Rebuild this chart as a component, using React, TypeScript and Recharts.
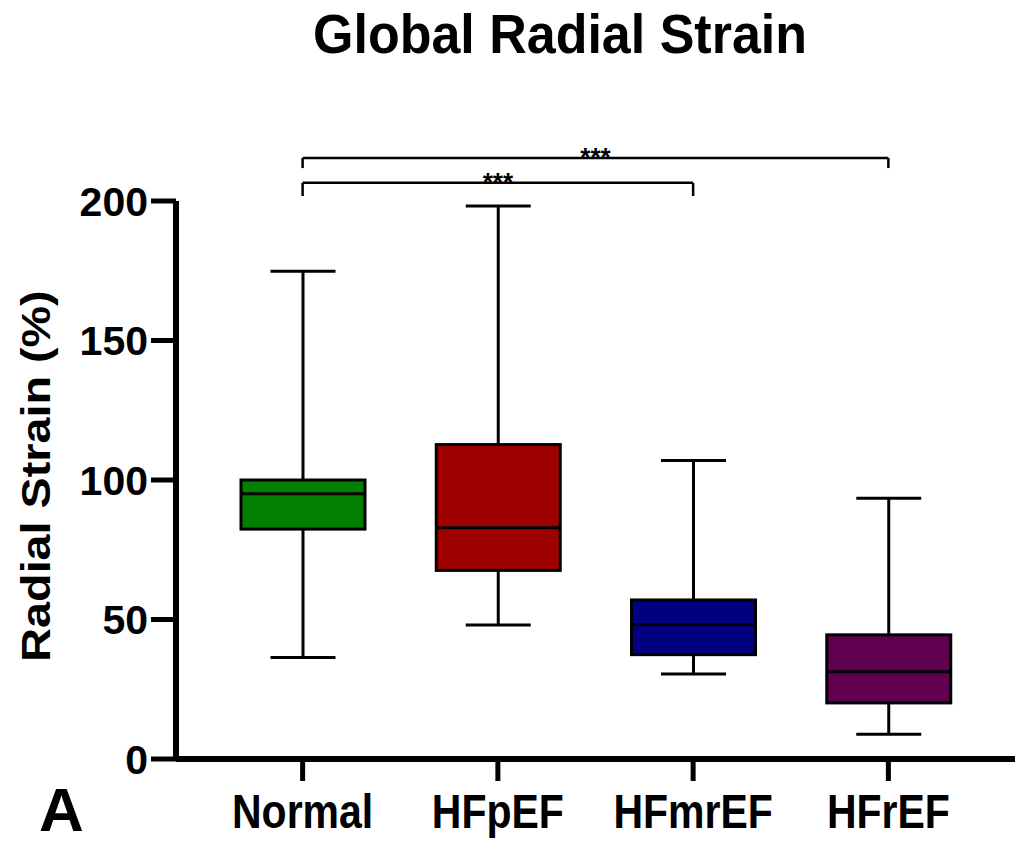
import React from "react";
import {
  ComposedChart,
  Bar,
  XAxis,
  YAxis,
  ReferenceLine,
} from "recharts";

// groups + five-number summaries
const categories = ["Normal", "HFpEF", "HFmrEF", "HFrEF"];
const minValues = [36.4, 48.0, 30.5, 8.9];
const q1Values = [82.4, 67.6, 37.4, 20.1];
const medianValues = [95.1, 82.9, 48.2, 31.3];
const q3Values = [100.0, 112.7, 57.0, 44.5];
const maxValues = [174.8, 198.2, 107.0, 93.5];
const boxColors = ["#007F00", "#9F0000", "#000080", "#61004F"];
const yTicks = [0, 50, 100, 150, 200];

// significance brackets (from, to, label, bar level, leg end level)
const bracketFrom = ["Normal", "Normal"];
const bracketTo = ["HFmrEF", "HFrEF"];
const bracketLabels = ["***", "***"];
const bracketTop = [206.5, 215.4];
const bracketLeg = [201.8, 211.8];

const FONT = '"Liberation Sans", Arial, Helvetica, sans-serif';

const chartData = categories.map((name, i) => ({
  name,
  min: minValues[i],
  q1: q1Values[i],
  median: medianValues[i],
  q3: q3Values[i],
  max: maxValues[i],
  color: boxColors[i],
}));

// draws whiskers + box inside the [min, max] range bar the library laid out
const BoxShape = (props: any) => {
  const { x, y, width, height, payload } = props;
  if (!payload) return null;
  const top = Math.min(y, y + height);
  const bottom = Math.max(y, y + height);
  const span = payload.max - payload.min;
  const toPx = (v: number) => bottom - ((v - payload.min) / span) * (bottom - top);
  const cx = x + width / 2;
  const capHalf = 32.5;
  const yQ1 = toPx(payload.q1);
  const yQ3 = toPx(payload.q3);
  const yMed = toPx(payload.median);
  return (
    <g>
      <line x1={cx} x2={cx} y1={top} y2={bottom} stroke="#000" strokeWidth={3} />
      <line x1={cx - capHalf} x2={cx + capHalf} y1={top} y2={top} stroke="#000" strokeWidth={3} />
      <line x1={cx - capHalf} x2={cx + capHalf} y1={bottom} y2={bottom} stroke="#000" strokeWidth={3} />
      <rect
        x={x}
        y={yQ3}
        width={width}
        height={yQ1 - yQ3}
        fill={payload.color}
        stroke="#000"
        strokeWidth={3}
      />
      <line x1={x} x2={x + width} y1={yMed} y2={yMed} stroke="#000" strokeWidth={3} />
    </g>
  );
};

const XTick = (props: any) => {
  const { x, y, payload } = props;
  return (
    <g transform={`translate(${x},${y + 47}) scale(1,1.17)`}>
      <text
        x={0}
        y={0}
        textAnchor="middle"
        fontFamily={FONT}
        fontWeight="bold"
        fontSize={41}
        fill="#000"
      >
        {payload.value}
      </text>
    </g>
  );
};

const YTick = (props: any) => {
  const { x, y, payload } = props;
  return (
    <text
      x={x}
      y={y}
      dy="0.36em"
      textAnchor="end"
      fontFamily={FONT}
      fontWeight="bold"
      fontSize={41}
      fill="#000"
    >
      {payload.value}
    </text>
  );
};

const starsLabel = (text: string) => (props: any) => {
  const vb = props.viewBox || {};
  return (
    <text
      x={vb.x + vb.width / 2}
      y={vb.y + 8}
      textAnchor="middle"
      fontFamily={FONT}
      fontWeight="bold"
      fontSize={26}
      fill="#000"
    >
      {text}
    </text>
  );
};

export default function App() {
  const lineStyle = { stroke: "#000", strokeWidth: 2.5 };
  return (
    <div style={{ position: "absolute", left: 0, top: 0, width: 1015, height: 845, background: "#fff" }}>
      <ComposedChart
        width={1015}
        height={845}
        data={chartData}
        margin={{ top: 201, right: 0, bottom: 0, left: 0 }}
      >
        <XAxis
          dataKey="name"
          type="category"
          padding={{ left: 29, right: 29 }}
          height={86}
          axisLine={{ stroke: "#000", strokeWidth: 6 }}
          tickLine={{ stroke: "#000", strokeWidth: 5 }}
          tickSize={22}
          tickMargin={0}
          tick={<XTick />}
          interval={0}
        />
        <YAxis
          domain={[0, 200]}
          ticks={yTicks}
          width={176}
          axisLine={{ stroke: "#000", strokeWidth: 6 }}
          tickLine={{ stroke: "#000", strokeWidth: 5 }}
          tickSize={25}
          tickMargin={3}
          tick={<YTick />}
          interval={0}
        />
        <Bar
          dataKey={(d: any) => [d.min, d.max]}
          barSize={124}
          shape={(p: any) => <BoxShape {...p} />}
          isAnimationActive={false}
        />
        {bracketFrom.map((from, i) => (
          <ReferenceLine
            key={`h${i}`}
            segment={[
              { x: from, y: bracketTop[i] },
              { x: bracketTo[i], y: bracketTop[i] },
            ]}
            ifOverflow="visible"
            {...lineStyle}
            label={starsLabel(bracketLabels[i])}
          />
        ))}
        {bracketFrom.map((from, i) => (
          <ReferenceLine
            key={`l${i}`}
            segment={[
              { x: from, y: bracketTop[i] },
              { x: from, y: bracketLeg[i] },
            ]}
            ifOverflow="visible"
            {...lineStyle}
          />
        ))}
        {bracketTo.map((to, i) => (
          <ReferenceLine
            key={`r${i}`}
            segment={[
              { x: to, y: bracketTop[i] },
              { x: to, y: bracketLeg[i] },
            ]}
            ifOverflow="visible"
            {...lineStyle}
          />
        ))}
      </ComposedChart>
      <svg
        width={1015}
        height={845}
        style={{ position: "absolute", left: 0, top: 0, pointerEvents: "none" }}
      >
        <g transform="translate(560,53) scale(1,1.08)">
          <text x={0} y={0} textAnchor="middle" fontFamily={FONT} fontWeight="bold" fontSize={52} fill="#000">
            Global Radial Strain
          </text>
        </g>
        <g transform="translate(50,476) scale(1,1.14) rotate(-90)">
          <text x={0} y={0} textAnchor="middle" fontFamily={FONT} fontWeight="bold" fontSize={41} fill="#000">
            Radial Strain (%)
          </text>
        </g>
        <text x={39} y={831} fontFamily={FONT} fontWeight="bold" fontSize={62} fill="#000">
          A
        </text>
      </svg>
    </div>
  );
}
